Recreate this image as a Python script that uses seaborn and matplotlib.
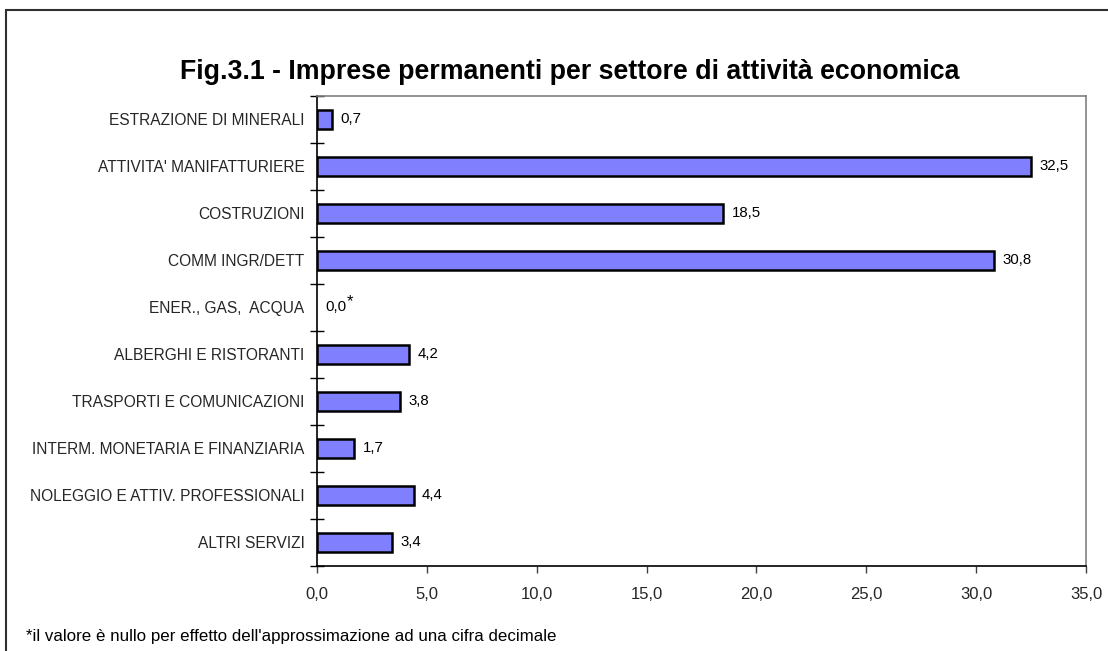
import matplotlib
matplotlib.use("Agg")
import matplotlib.pyplot as plt
import matplotlib.patches as mpatches
from matplotlib.ticker import FixedLocator, FuncFormatter
import seaborn as sns
import pandas as pd

sectors = [
    "ESTRAZIONE DI MINERALI",
    "ATTIVITA' MANIFATTURIERE",
    "COSTRUZIONI",
    "COMM INGR/DETT",
    "ENER., GAS,  ACQUA",
    "ALBERGHI E RISTORANTI",
    "TRASPORTI E COMUNICAZIONI",
    "INTERM. MONETARIA E FINANZIARIA",
    "NOLEGGIO E ATTIV. PROFESSIONALI",
    "ALTRI SERVIZI",
]
shares = [0.7, 32.5, 18.5, 30.8, 0.0, 4.2, 3.8, 1.7, 4.4, 3.4]
x_ticks = [0, 5, 10, 15, 20, 25, 30, 35]

title = "Fig.3.1 - Imprese permanenti per settore di attività economica"
footnote = "*il valore è nullo per effetto dell'approssimazione ad una cifra decimale"

df = pd.DataFrame({"settore": sectors, "quota": shares})

sns.set_theme(style="white")
plt.rcParams["font.family"] = ["Liberation Sans", "DejaVu Sans"]

fig = plt.figure(figsize=(11.08, 6.51), dpi=100)
ax = fig.add_axes([317 / 1108, 1 - 566 / 651, (1086 - 317) / 1108, (566 - 96) / 651])

sns.barplot(data=df, x="quota", y="settore", orient="h", ax=ax,
            color="#8080FF", saturation=1, width=0.41,
            edgecolor="black", linewidth=1.8)

# a zero-length bar leaves no visible outline
for patch in ax.patches:
    if patch.get_width() == 0:
        patch.set_linewidth(0)

ax.set_xlim(0, 35)
ax.set_ylim(len(sectors) - 0.5, -0.5)
ax.set_xlabel("")
ax.set_ylabel("")

ax.xaxis.set_major_locator(FixedLocator(x_ticks))
ax.xaxis.set_major_formatter(FuncFormatter(lambda v, p: f"{v:.1f}".replace(".", ",")))
ax.tick_params(axis="x", which="major", direction="out", length=5, width=1,
               color="#404040", labelsize=12, pad=10, bottom=True)

# category boundaries as crossing tick marks on the value axis
ax.yaxis.set_minor_locator(FixedLocator([i + 0.5 for i in range(-1, len(sectors))]))
ax.tick_params(axis="y", which="major", length=0, labelsize=11.2, pad=9)
ax.tick_params(axis="y", which="minor", direction="inout", length=10, width=1,
               color="black", left=True)

for side in ("left", "bottom"):
    ax.spines[side].set_color("black")
    ax.spines[side].set_linewidth(1.2)
for side in ("top", "right"):
    ax.spines[side].set_color("#808080")
    ax.spines[side].set_linewidth(1.2)

for i, v in enumerate(shares):
    txt = f"{v:.1f}".replace(".", ",")
    if v == 0:
        ax.annotate(txt, xy=(v, i), xytext=(6, 0), textcoords="offset points",
                    va="center", ha="left", fontsize=10.8, color="black")
        ax.annotate("*", xy=(v, i), xytext=(21.5, 4), textcoords="offset points",
                    va="center", ha="left", fontsize=12, color="black")
    else:
        ax.annotate(txt, xy=(v, i), xytext=(6, 0), textcoords="offset points",
                    va="center", ha="left", fontsize=10.8, color="black")

fig.text(570 / 1108, 1 - 72 / 651, title, ha="center", va="center",
         fontsize=19.3, fontweight="bold", color="black")
fig.text(26 / 1108, 1 - 636 / 651, footnote, ha="left", va="center",
         fontsize=12.2, color="black")

# chart frame around the whole figure area
frame = mpatches.Rectangle((6 / 1108, -0.01), 1.02, 1 - 10 / 651 + 0.01,
                           transform=fig.transFigure, fill=False,
                           edgecolor="#303030", linewidth=1.5, clip_on=False)
fig.add_artist(frame)

fig.savefig("out.png", dpi=100)
